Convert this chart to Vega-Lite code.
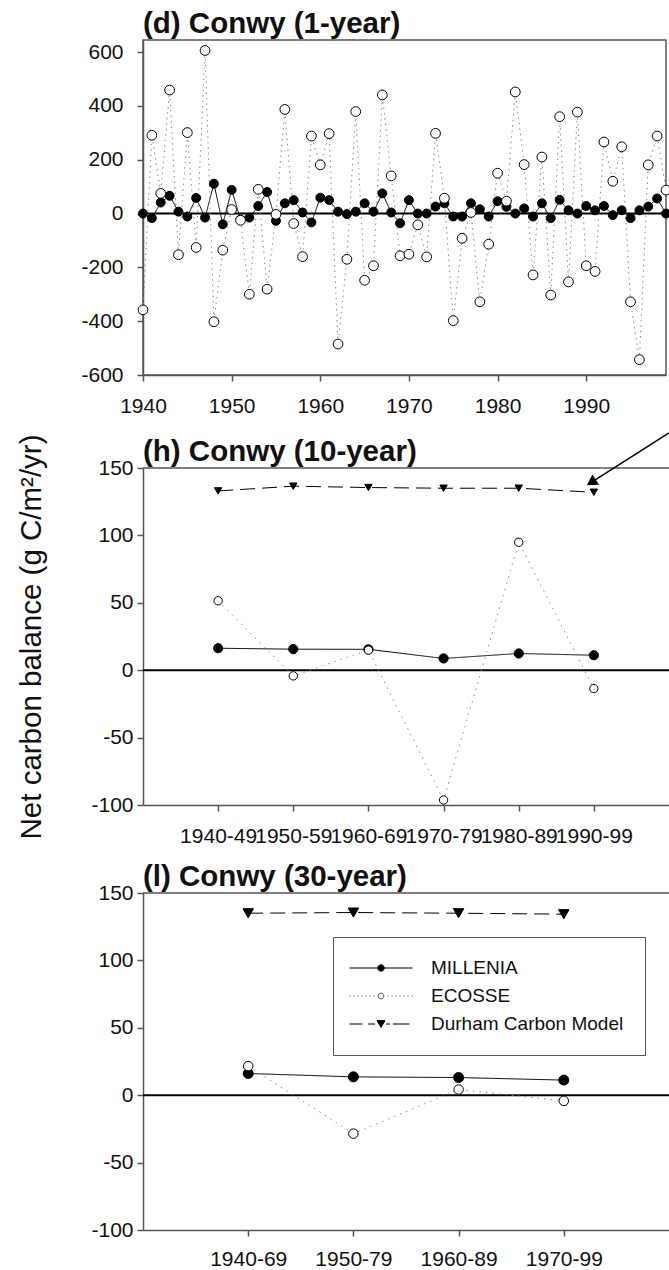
{
  "$schema": "https://vega.github.io/schema/vega-lite/v6.json",
  "background": "white",
  "padding": {"left": 15, "top": 7, "right": 0, "bottom": 0},
  "config": {
    "font": "Liberation Sans",
    "view": {"stroke": null},
    "concat": {"spacing": 15},
    "title": {"font": "Liberation Sans", "fontSize": 29.5, "fontWeight": "bold", "anchor": "start", "frame": "group", "offset": 1, "color": "#111"},
    "axis": {"labelFont": "Liberation Sans", "labelFontSize": 21, "labelColor": "#111", "domainColor": "#555", "domainWidth": 1.5, "tickColor": "#555", "tickWidth": 1.5, "tickSize": 6, "labelPadding": 14, "grid": false, "titleFont": "Liberation Sans", "titleFontSize": 29.5, "titleFontWeight": "normal", "titleColor": "#111"}
  },
  "datasets": {
    "annual": [
      {"year": 1940, "model": "MILLENIA", "value": 0}, {"year": 1941, "model": "MILLENIA", "value": -17}, {"year": 1942, "model": "MILLENIA", "value": 41}, {"year": 1943, "model": "MILLENIA", "value": 66}, {"year": 1944, "model": "MILLENIA", "value": 7}, {"year": 1945, "model": "MILLENIA", "value": -11}, {"year": 1946, "model": "MILLENIA", "value": 58}, {"year": 1947, "model": "MILLENIA", "value": -15}, {"year": 1948, "model": "MILLENIA", "value": 111}, {"year": 1949, "model": "MILLENIA", "value": -40},
      {"year": 1950, "model": "MILLENIA", "value": 88}, {"year": 1951, "model": "MILLENIA", "value": -22}, {"year": 1952, "model": "MILLENIA", "value": -15}, {"year": 1953, "model": "MILLENIA", "value": 28}, {"year": 1954, "model": "MILLENIA", "value": 80}, {"year": 1955, "model": "MILLENIA", "value": -27}, {"year": 1956, "model": "MILLENIA", "value": 38}, {"year": 1957, "model": "MILLENIA", "value": 50}, {"year": 1958, "model": "MILLENIA", "value": 4}, {"year": 1959, "model": "MILLENIA", "value": -33},
      {"year": 1960, "model": "MILLENIA", "value": 59}, {"year": 1961, "model": "MILLENIA", "value": 50}, {"year": 1962, "model": "MILLENIA", "value": 7}, {"year": 1963, "model": "MILLENIA", "value": -2}, {"year": 1964, "model": "MILLENIA", "value": 7}, {"year": 1965, "model": "MILLENIA", "value": 38}, {"year": 1966, "model": "MILLENIA", "value": 7}, {"year": 1967, "model": "MILLENIA", "value": 75}, {"year": 1968, "model": "MILLENIA", "value": 4}, {"year": 1969, "model": "MILLENIA", "value": -36},
      {"year": 1970, "model": "MILLENIA", "value": 50}, {"year": 1971, "model": "MILLENIA", "value": 0}, {"year": 1972, "model": "MILLENIA", "value": 0}, {"year": 1973, "model": "MILLENIA", "value": 26}, {"year": 1974, "model": "MILLENIA", "value": 38}, {"year": 1975, "model": "MILLENIA", "value": -11}, {"year": 1976, "model": "MILLENIA", "value": -11}, {"year": 1977, "model": "MILLENIA", "value": 38}, {"year": 1978, "model": "MILLENIA", "value": 16}, {"year": 1979, "model": "MILLENIA", "value": -11},
      {"year": 1980, "model": "MILLENIA", "value": 46}, {"year": 1981, "model": "MILLENIA", "value": 25}, {"year": 1982, "model": "MILLENIA", "value": 0}, {"year": 1983, "model": "MILLENIA", "value": 19}, {"year": 1984, "model": "MILLENIA", "value": -11}, {"year": 1985, "model": "MILLENIA", "value": 38}, {"year": 1986, "model": "MILLENIA", "value": -17}, {"year": 1987, "model": "MILLENIA", "value": 51}, {"year": 1988, "model": "MILLENIA", "value": 12}, {"year": 1989, "model": "MILLENIA", "value": 0},
      {"year": 1990, "model": "MILLENIA", "value": 28}, {"year": 1991, "model": "MILLENIA", "value": 12}, {"year": 1992, "model": "MILLENIA", "value": 28}, {"year": 1993, "model": "MILLENIA", "value": -6}, {"year": 1994, "model": "MILLENIA", "value": 12}, {"year": 1995, "model": "MILLENIA", "value": -17}, {"year": 1996, "model": "MILLENIA", "value": 12}, {"year": 1997, "model": "MILLENIA", "value": 26}, {"year": 1998, "model": "MILLENIA", "value": 56}, {"year": 1999, "model": "MILLENIA", "value": 0},
      {"year": 1940, "model": "ECOSSE", "value": -358}, {"year": 1941, "model": "ECOSSE", "value": 291}, {"year": 1942, "model": "ECOSSE", "value": 75}, {"year": 1943, "model": "ECOSSE", "value": 459}, {"year": 1944, "model": "ECOSSE", "value": -153}, {"year": 1945, "model": "ECOSSE", "value": 301}, {"year": 1946, "model": "ECOSSE", "value": -126}, {"year": 1947, "model": "ECOSSE", "value": 606}, {"year": 1948, "model": "ECOSSE", "value": -402}, {"year": 1949, "model": "ECOSSE", "value": -136},
      {"year": 1950, "model": "ECOSSE", "value": 15}, {"year": 1951, "model": "ECOSSE", "value": -25}, {"year": 1952, "model": "ECOSSE", "value": -300}, {"year": 1953, "model": "ECOSSE", "value": 90}, {"year": 1954, "model": "ECOSSE", "value": -281}, {"year": 1955, "model": "ECOSSE", "value": -3}, {"year": 1956, "model": "ECOSSE", "value": 387}, {"year": 1957, "model": "ECOSSE", "value": -37}, {"year": 1958, "model": "ECOSSE", "value": -160}, {"year": 1959, "model": "ECOSSE", "value": 288},
      {"year": 1960, "model": "ECOSSE", "value": 181}, {"year": 1961, "model": "ECOSSE", "value": 297}, {"year": 1962, "model": "ECOSSE", "value": -485}, {"year": 1963, "model": "ECOSSE", "value": -170}, {"year": 1964, "model": "ECOSSE", "value": 379}, {"year": 1965, "model": "ECOSSE", "value": -248}, {"year": 1966, "model": "ECOSSE", "value": -194}, {"year": 1967, "model": "ECOSSE", "value": 441}, {"year": 1968, "model": "ECOSSE", "value": 140}, {"year": 1969, "model": "ECOSSE", "value": -157},
      {"year": 1970, "model": "ECOSSE", "value": -151}, {"year": 1971, "model": "ECOSSE", "value": -42}, {"year": 1972, "model": "ECOSSE", "value": -161}, {"year": 1973, "model": "ECOSSE", "value": 298}, {"year": 1974, "model": "ECOSSE", "value": 57}, {"year": 1975, "model": "ECOSSE", "value": -398}, {"year": 1976, "model": "ECOSSE", "value": -92}, {"year": 1977, "model": "ECOSSE", "value": 4}, {"year": 1978, "model": "ECOSSE", "value": -328}, {"year": 1979, "model": "ECOSSE", "value": -114},
      {"year": 1980, "model": "ECOSSE", "value": 150}, {"year": 1981, "model": "ECOSSE", "value": 46}, {"year": 1982, "model": "ECOSSE", "value": 452}, {"year": 1983, "model": "ECOSSE", "value": 182}, {"year": 1984, "model": "ECOSSE", "value": -228}, {"year": 1985, "model": "ECOSSE", "value": 210}, {"year": 1986, "model": "ECOSSE", "value": -303}, {"year": 1987, "model": "ECOSSE", "value": 360}, {"year": 1988, "model": "ECOSSE", "value": -254}, {"year": 1989, "model": "ECOSSE", "value": 377},
      {"year": 1990, "model": "ECOSSE", "value": -194}, {"year": 1991, "model": "ECOSSE", "value": -215}, {"year": 1992, "model": "ECOSSE", "value": 266}, {"year": 1993, "model": "ECOSSE", "value": 120}, {"year": 1994, "model": "ECOSSE", "value": 248}, {"year": 1995, "model": "ECOSSE", "value": -328}, {"year": 1996, "model": "ECOSSE", "value": -543}, {"year": 1997, "model": "ECOSSE", "value": 181}, {"year": 1998, "model": "ECOSSE", "value": 288}, {"year": 1999, "model": "ECOSSE", "value": 87}
    ],
    "decadal": [
      {"decade": 1940, "model": "MILLENIA", "value": 16.3}, {"decade": 1950, "model": "MILLENIA", "value": 15.6}, {"decade": 1960, "model": "MILLENIA", "value": 15.5}, {"decade": 1970, "model": "MILLENIA", "value": 8.7}, {"decade": 1980, "model": "MILLENIA", "value": 12.4}, {"decade": 1990, "model": "MILLENIA", "value": 11.1},
      {"decade": 1940, "model": "ECOSSE", "value": 51.5}, {"decade": 1950, "model": "ECOSSE", "value": -4.2}, {"decade": 1960, "model": "ECOSSE", "value": 14.9}, {"decade": 1970, "model": "ECOSSE", "value": -96.3}, {"decade": 1980, "model": "ECOSSE", "value": 94.9}, {"decade": 1990, "model": "ECOSSE", "value": -13.6},
      {"decade": 1940, "model": "Durham Carbon Model", "value": 133}, {"decade": 1950, "model": "Durham Carbon Model", "value": 136.5}, {"decade": 1960, "model": "Durham Carbon Model", "value": 135.5}, {"decade": 1970, "model": "Durham Carbon Model", "value": 135}, {"decade": 1980, "model": "Durham Carbon Model", "value": 135}, {"decade": 1990, "model": "Durham Carbon Model", "value": 132}
    ],
    "thirty": [
      {"start": 1940, "model": "MILLENIA", "value": 16.1}, {"start": 1950, "model": "MILLENIA", "value": 13.6}, {"start": 1960, "model": "MILLENIA", "value": 13.1}, {"start": 1970, "model": "MILLENIA", "value": 11.2},
      {"start": 1940, "model": "ECOSSE", "value": 21.6}, {"start": 1950, "model": "ECOSSE", "value": -28.5}, {"start": 1960, "model": "ECOSSE", "value": 4.2}, {"start": 1970, "model": "ECOSSE", "value": -4.2},
      {"start": 1940, "model": "Durham Carbon Model", "value": 135}, {"start": 1950, "model": "Durham Carbon Model", "value": 135.5}, {"start": 1960, "model": "Durham Carbon Model", "value": 135}, {"start": 1970, "model": "Durham Carbon Model", "value": 134.3}
    ],
    "arrow": [
      {"decade": 2000, "value": 176, "decadeEnd": 1989.66, "valueEnd": 139.3}
    ]
  },
  "resolve": {
    "scale": {"x": "independent", "y": "independent", "shape": "independent", "fill": "independent", "size": "independent", "color": "independent", "strokeDash": "independent", "stroke": "independent"},
    "legend": {"shape": "independent"}
  },
  "vconcat": [
    {
      "width": 523,
      "height": 335,
      "title": {"text": "(d) Conwy (1-year)"},
      "view": {"stroke": "#555", "strokeWidth": 1.5},
      "layer": [
        {
          "data": {"values": [{}]},
          "mark": {"type": "rule", "color": "#000", "strokeWidth": 2},
          "encoding": {
            "y": {"datum": 0, "type": "quantitative", "scale": {"domain": [-600, 645], "nice": false, "zero": false}, "axis": {"values": [-600, -400, -200, 0, 200, 400, 600], "labelExpr": "datum.value + ''", "title": null, "labelPadding": 14}}
          }
        },
        {
          "data": {"name": "annual"},
          "mark": {"type": "line", "strokeWidth": 1},
          "encoding": {
            "x": {"field": "year", "type": "quantitative", "scale": {"domain": [1940, 1999], "nice": false, "zero": false}, "axis": {"values": [1940, 1950, 1960, 1970, 1980, 1990], "format": "d", "title": null, "labelFlush": false, "labelOverlap": false}},
            "y": {"field": "value", "type": "quantitative", "scale": {"domain": [-600, 645], "nice": false, "zero": false}, "axis": {"values": [-600, -400, -200, 0, 200, 400, 600], "labelExpr": "datum.value + ''", "title": null, "labelPadding": 14}},
            "color": {"field": "model", "type": "nominal", "scale": {"domain": ["MILLENIA", "ECOSSE"], "range": ["#000000", "#8a8a8a"]}, "legend": null},
            "strokeDash": {"field": "model", "type": "nominal", "scale": {"domain": ["MILLENIA", "ECOSSE"], "range": [[1, 0], [1.5, 4]]}, "legend": null}
          }
        },
        {
          "data": {"name": "annual"},
          "mark": {"type": "point", "filled": true, "stroke": "#000", "strokeWidth": 1, "opacity": 1},
          "encoding": {
            "x": {"field": "year", "type": "quantitative", "scale": {"domain": [1940, 1999], "nice": false, "zero": false}, "axis": {"values": [1940, 1950, 1960, 1970, 1980, 1990], "format": "d", "title": null, "labelFlush": false, "labelOverlap": false}},
            "y": {"field": "value", "type": "quantitative", "scale": {"domain": [-600, 645], "nice": false, "zero": false}, "axis": {"values": [-600, -400, -200, 0, 200, 400, 600], "labelExpr": "datum.value + ''", "title": null, "labelPadding": 14}},
            "shape": {"field": "model", "type": "nominal", "scale": {"domain": ["MILLENIA", "ECOSSE"], "range": ["circle", "circle"]}, "legend": null},
            "fill": {"field": "model", "type": "nominal", "scale": {"domain": ["MILLENIA", "ECOSSE"], "range": ["#000000", "#ffffff"]}, "legend": null},
            "size": {"field": "model", "type": "ordinal", "scale": {"domain": ["MILLENIA", "ECOSSE"], "range": [80, 95]}, "legend": null}
          }
        }
      ]
    },
    {
      "width": 526,
      "height": 337,
      "title": {"text": "(h) Conwy (10-year)", "offset": -35},
      "view": {"stroke": null},
      "layer": [
        {
          "data": {"values": [{}]},
          "mark": {"type": "rule", "color": "#555", "strokeWidth": 1.5},
          "encoding": {
            "y": {"datum": 150, "type": "quantitative", "scale": {"domain": [-100, 150], "nice": false, "zero": false}, "axis": {"values": [-100, -50, 0, 50, 100, 150], "labelExpr": "datum.value + ''", "title": "Net carbon balance (g C/m²/yr)", "titleX": -103, "titleBaseline": "alphabetic", "labelPadding": 4}}
          }
        },
        {
          "data": {"values": [{}]},
          "mark": {"type": "rule", "color": "#000", "strokeWidth": 2},
          "encoding": {
            "y": {"datum": 0, "type": "quantitative", "scale": {"domain": [-100, 150], "nice": false, "zero": false}, "axis": {"values": [-100, -50, 0, 50, 100, 150], "labelExpr": "datum.value + ''", "title": "Net carbon balance (g C/m²/yr)", "titleX": -103, "titleBaseline": "alphabetic", "labelPadding": 4}}
          }
        },
        {
          "data": {"name": "decadal"},
          "mark": {"type": "line", "strokeWidth": 1},
          "encoding": {
            "x": {"field": "decade", "type": "quantitative", "scale": {"domain": [1930, 2000], "nice": false, "zero": false}, "axis": {"values": [1940, 1950, 1960, 1970, 1980, 1990], "labelExpr": "datum.value + '-' + (datum.value % 100 + 9)", "title": null, "labelFlush": false, "labelOverlap": false}},
            "y": {"field": "value", "type": "quantitative", "scale": {"domain": [-100, 150], "nice": false, "zero": false}, "axis": {"values": [-100, -50, 0, 50, 100, 150], "labelExpr": "datum.value + ''", "title": "Net carbon balance (g C/m²/yr)", "titleX": -103, "titleBaseline": "alphabetic", "labelPadding": 4}},
            "color": {"field": "model", "type": "nominal", "scale": {"domain": ["MILLENIA", "ECOSSE", "Durham Carbon Model"], "range": ["#000000", "#8a8a8a", "#000000"]}, "legend": null},
            "strokeDash": {"field": "model", "type": "nominal", "scale": {"domain": ["MILLENIA", "ECOSSE", "Durham Carbon Model"], "range": [[1, 0], [1.5, 5], [15, 7]]}, "legend": null}
          }
        },
        {
          "data": {"name": "decadal"},
          "mark": {"type": "point", "filled": true, "stroke": "#000", "strokeWidth": 1, "opacity": 1},
          "encoding": {
            "x": {"field": "decade", "type": "quantitative", "scale": {"domain": [1930, 2000], "nice": false, "zero": false}, "axis": {"values": [1940, 1950, 1960, 1970, 1980, 1990], "labelExpr": "datum.value + '-' + (datum.value % 100 + 9)", "title": null, "labelFlush": false, "labelOverlap": false}},
            "y": {"field": "value", "type": "quantitative", "scale": {"domain": [-100, 150], "nice": false, "zero": false}, "axis": {"values": [-100, -50, 0, 50, 100, 150], "labelExpr": "datum.value + ''", "title": "Net carbon balance (g C/m²/yr)", "titleX": -103, "titleBaseline": "alphabetic", "labelPadding": 4}},
            "shape": {"field": "model", "type": "nominal", "scale": {"domain": ["MILLENIA", "ECOSSE", "Durham Carbon Model"], "range": ["circle", "circle", "triangle-down"]}, "legend": null},
            "fill": {"field": "model", "type": "nominal", "scale": {"domain": ["MILLENIA", "ECOSSE", "Durham Carbon Model"], "range": ["#000000", "#ffffff", "#000000"]}, "legend": null},
            "size": {"field": "model", "type": "ordinal", "scale": {"domain": ["MILLENIA", "ECOSSE", "Durham Carbon Model"], "range": [85, 55, 110]}, "legend": null}
          }
        },
        {
          "data": {"name": "arrow"},
          "mark": {"type": "rule", "color": "#000", "strokeWidth": 1.5},
          "encoding": {
            "x": {"field": "decade", "type": "quantitative", "scale": {"domain": [1930, 2000], "nice": false, "zero": false}, "axis": {"values": [1940, 1950, 1960, 1970, 1980, 1990], "labelExpr": "datum.value + '-' + (datum.value % 100 + 9)", "title": null, "labelFlush": false, "labelOverlap": false}},
            "y": {"field": "value", "type": "quantitative", "scale": {"domain": [-100, 150], "nice": false, "zero": false}, "axis": {"values": [-100, -50, 0, 50, 100, 150], "labelExpr": "datum.value + ''", "title": "Net carbon balance (g C/m²/yr)", "titleX": -103, "titleBaseline": "alphabetic", "labelPadding": 4}},
            "x2": {"field": "decadeEnd"},
            "y2": {"field": "valueEnd"}
          }
        },
        {
          "data": {"name": "arrow"},
          "mark": {"type": "point", "shape": "triangle-up", "angle": 237, "size": 150, "filled": true, "color": "#000", "opacity": 1},
          "encoding": {
            "x": {"field": "decadeEnd", "type": "quantitative", "scale": {"domain": [1930, 2000], "nice": false, "zero": false}, "axis": {"values": [1940, 1950, 1960, 1970, 1980, 1990], "labelExpr": "datum.value + '-' + (datum.value % 100 + 9)", "title": null, "labelFlush": false, "labelOverlap": false}},
            "y": {"field": "valueEnd", "type": "quantitative", "scale": {"domain": [-100, 150], "nice": false, "zero": false}, "axis": {"values": [-100, -50, 0, 50, 100, 150], "labelExpr": "datum.value + ''", "title": "Net carbon balance (g C/m²/yr)", "titleX": -103, "titleBaseline": "alphabetic", "labelPadding": 4}}
          }
        }
      ]
    },
    {
      "width": 526,
      "height": 337,
      "title": {"text": "(l) Conwy (30-year)", "offset": -10},
      "view": {"stroke": null},
      "resolve": {
        "scale": {"shape": "independent", "fill": "independent", "stroke": "independent", "size": "independent"},
        "legend": {"shape": "independent", "fill": "independent", "stroke": "independent", "size": "independent"}
      },
      "layer": [
        {
          "data": {"values": [{}]},
          "mark": {"type": "rule", "color": "#555", "strokeWidth": 1.5},
          "encoding": {
            "y": {"datum": 150, "type": "quantitative", "scale": {"domain": [-100, 150], "nice": false, "zero": false}, "axis": {"values": [-100, -50, 0, 50, 100, 150], "labelExpr": "datum.value + ''", "title": null, "labelPadding": 4}}
          }
        },
        {
          "data": {"values": [{}]},
          "mark": {"type": "rule", "color": "#000", "strokeWidth": 2},
          "encoding": {
            "y": {"datum": 0, "type": "quantitative", "scale": {"domain": [-100, 150], "nice": false, "zero": false}, "axis": {"values": [-100, -50, 0, 50, 100, 150], "labelExpr": "datum.value + ''", "title": null, "labelPadding": 4}}
          }
        },
        {
          "data": {"name": "thirty"},
          "mark": {"type": "line", "strokeWidth": 1},
          "encoding": {
            "x": {"field": "start", "type": "quantitative", "scale": {"domain": [1930, 1980], "nice": false, "zero": false}, "axis": {"values": [1940, 1950, 1960, 1970], "labelExpr": "datum.value + '-' + (datum.value % 100 + 29)", "title": null, "labelFlush": false, "labelOverlap": false, "labelPadding": 12}},
            "y": {"field": "value", "type": "quantitative", "scale": {"domain": [-100, 150], "nice": false, "zero": false}, "axis": {"values": [-100, -50, 0, 50, 100, 150], "labelExpr": "datum.value + ''", "title": null, "labelPadding": 4}},
            "color": {"field": "model", "type": "nominal", "scale": {"domain": ["MILLENIA", "Durham Carbon Model", "ECOSSE"], "range": ["#000000", "#000000", "#8a8a8a"]}, "legend": null},
            "strokeDash": {"field": "model", "type": "nominal", "scale": {"domain": ["ECOSSE", "Durham Carbon Model", "MILLENIA"], "range": [[1.5, 5], [15, 7], [1, 0]]}, "legend": null}
          }
        },
        {
          "data": {"name": "thirty"},
          "mark": {"type": "point", "filled": true, "stroke": "#000", "strokeWidth": 1, "opacity": 1},
          "encoding": {
            "x": {"field": "start", "type": "quantitative", "scale": {"domain": [1930, 1980], "nice": false, "zero": false}, "axis": {"values": [1940, 1950, 1960, 1970], "labelExpr": "datum.value + '-' + (datum.value % 100 + 29)", "title": null, "labelFlush": false, "labelOverlap": false, "labelPadding": 12}},
            "y": {"field": "value", "type": "quantitative", "scale": {"domain": [-100, 150], "nice": false, "zero": false}, "axis": {"values": [-100, -50, 0, 50, 100, 150], "labelExpr": "datum.value + ''", "title": null, "labelPadding": 4}},
            "shape": {"field": "model", "type": "nominal", "scale": {"domain": ["Durham Carbon Model", "ECOSSE", "MILLENIA"], "range": ["triangle-down", "circle", "circle"]}, "legend": null},
            "fill": {"field": "model", "type": "nominal", "scale": {"domain": ["ECOSSE", "MILLENIA", "Durham Carbon Model"], "range": ["#ffffff", "#000000", "#000000"]}, "legend": null},
            "size": {"field": "model", "type": "ordinal", "scale": {"domain": ["Durham Carbon Model", "MILLENIA", "ECOSSE"], "range": [110, 90, 65]}, "legend": null}
          }
        },
        {
          "data": {"name": "thirty"},
          "transform": [{"filter": "false"}],
          "mark": {"type": "point", "filled": true},
          "encoding": {
            "x": {"field": "start", "type": "quantitative", "scale": {"domain": [1930, 1980], "nice": false, "zero": false}, "axis": {"values": [1940, 1950, 1960, 1970], "labelExpr": "datum.value + '-' + (datum.value % 100 + 29)", "title": null, "labelFlush": false, "labelOverlap": false, "labelPadding": 12}},
            "y": {"field": "value", "type": "quantitative", "scale": {"domain": [-100, 150], "nice": false, "zero": false}, "axis": {"values": [-100, -50, 0, 50, 100, 150], "labelExpr": "datum.value + ''", "title": null, "labelPadding": 4}},
            "shape": {
              "field": "model", "type": "nominal",
              "scale": {
                "domain": ["MILLENIA", "ECOSSE", "Durham Carbon Model"],
                "range": [
                  "M-3.32,0L3.32,0M0.34,0A0.34,0.34,0,1,1,-0.34,0A0.34,0.34,0,1,1,0.34,0Z",
                  "M-3.32,0L-3.2,0M-2.9,0L-2.78,0M-2.48,0L-2.36,0M-2.06,0L-1.94,0M-1.64,0L-1.52,0M-1.22,0L-1.1,0M-0.8,0L-0.68,0M0.68,0L0.8,0M1.1,0L1.22,0M1.52,0L1.64,0M1.94,0L2.06,0M2.36,0L2.48,0M2.78,0L2.9,0M3.2,0L3.32,0M0.3,0A0.3,0.3,0,1,1,-0.3,0A0.3,0.3,0,1,1,0.3,0Z",
                  "M-3.32,0L-1.95,0M-1.37,0L-0.63,0M0.53,0L0.95,0M1.26,0L3.0,0M-0.42,-0.36L0.42,-0.36L0,0.36Z"
                ]
              },
              "legend": {
                "orient": "none", "legendX": 190, "legendY": 44,
                "title": null,
                "padding": 21,
                "strokeColor": "#555",
                "fillColor": "#ffffff",
                "symbolSize": 361,
                "symbolStrokeWidth": 1,
                "symbolOpacity": 1,
                "symbolOffset": 17,
                "labelOffset": 40,
                "labelFontSize": 19,
                "labelLimit": 400,
                "labelFont": "Liberation Sans",
                "labelColor": "#111",
                "rowPadding": 8
              }
            },
            "fill": {"field": "model", "type": "nominal", "scale": {"domain": ["MILLENIA", "ECOSSE", "Durham Carbon Model"], "range": ["#000000", "#ffffff", "#000000"]}},
            "stroke": {"field": "model", "type": "nominal", "scale": {"domain": ["MILLENIA", "ECOSSE", "Durham Carbon Model"], "range": ["#000000", "#555555", "#000000"]}}
          }
        }
      ]
    }
  ]
}
